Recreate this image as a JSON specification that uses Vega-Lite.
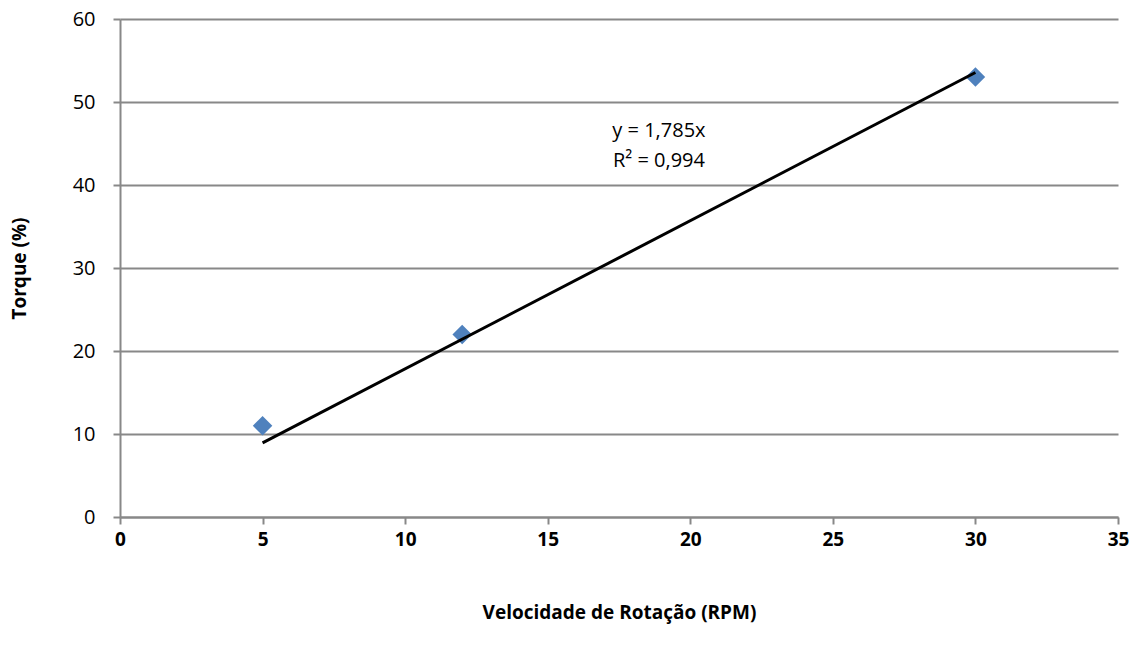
{
  "$schema": "https://vega.github.io/schema/vega-lite/v6.json",
  "autosize": {"type": "none"},
  "width": 998,
  "height": 498,
  "padding": {"left": 120, "top": 19, "right": 22, "bottom": 137},
  "background": "white",
  "config": {
    "view": {"stroke": null},
    "font": "Open Sans"
  },
  "datasets": {
    "points": [
      {"rpm": 5, "torque": 11},
      {"rpm": 12, "torque": 22},
      {"rpm": 30, "torque": 53}
    ],
    "trend": [
      {"rpm": 5, "torque": 8.925},
      {"rpm": 30, "torque": 53.55}
    ],
    "label": [
      {"rpm": 18.9, "torque": 46.5, "text": "y = 1,785x"},
      {"rpm": 18.9, "torque": 42.9, "text": "R² = 0,994"}
    ]
  },
  "layer": [
    {
      "data": {"name": "points"},
      "mark": {"type": "point", "shape": "diamond", "filled": true, "color": "#4F81BD", "opacity": 1, "size": 380},
      "encoding": {
        "x": {
          "field": "rpm", "type": "quantitative",
          "scale": {"domain": [0, 35], "nice": false, "zero": false},
          "axis": {
            "values": [0, 5, 10, 15, 20, 25, 30, 35],
            "title": "Velocidade de Rotação (RPM)",
            "titleFont": "Open Sans", "titleFontSize": 19, "titleFontWeight": "bold", "titleColor": "#000",
            "titlePadding": 54,
            "labelFont": "Open Sans", "labelFontSize": 19, "labelFontWeight": "bold", "labelColor": "#000",
            "labelPadding": 6, "labelFlush": false, "labelOverlap": false,
            "grid": false,
            "domainColor": "#888", "domainWidth": 2,
            "tickColor": "#888", "tickWidth": 2, "tickSize": 7
          }
        },
        "y": {
          "field": "torque", "type": "quantitative",
          "scale": {"domain": [0, 60], "nice": false},
          "axis": {
            "values": [0, 10, 20, 30, 40, 50, 60],
            "title": "Torque (%)",
            "titleFont": "Open Sans", "titleFontSize": 19, "titleFontWeight": "bold", "titleColor": "#000",
            "titlePadding": 43,
            "labelFont": "Open Sans", "labelFontSize": 20, "labelColor": "#000",
            "labelPadding": 18, "labelFlush": false, "labelOverlap": false,
            "grid": true, "gridColor": "#888", "gridWidth": 2,
            "domainColor": "#888", "domainWidth": 2,
            "tickColor": "#888", "tickWidth": 2, "tickSize": 7
          }
        }
      }
    },
    {
      "data": {"name": "trend"},
      "mark": {"type": "line", "color": "#000", "strokeWidth": 3},
      "encoding": {
        "x": {"field": "rpm", "type": "quantitative"},
        "y": {"field": "torque", "type": "quantitative"}
      }
    },
    {
      "data": {"name": "label"},
      "mark": {"type": "text", "font": "Open Sans", "fontSize": 20, "color": "#000", "align": "center", "baseline": "middle"},
      "encoding": {
        "x": {"field": "rpm", "type": "quantitative"},
        "y": {"field": "torque", "type": "quantitative"},
        "text": {"field": "text"}
      }
    }
  ]
}
